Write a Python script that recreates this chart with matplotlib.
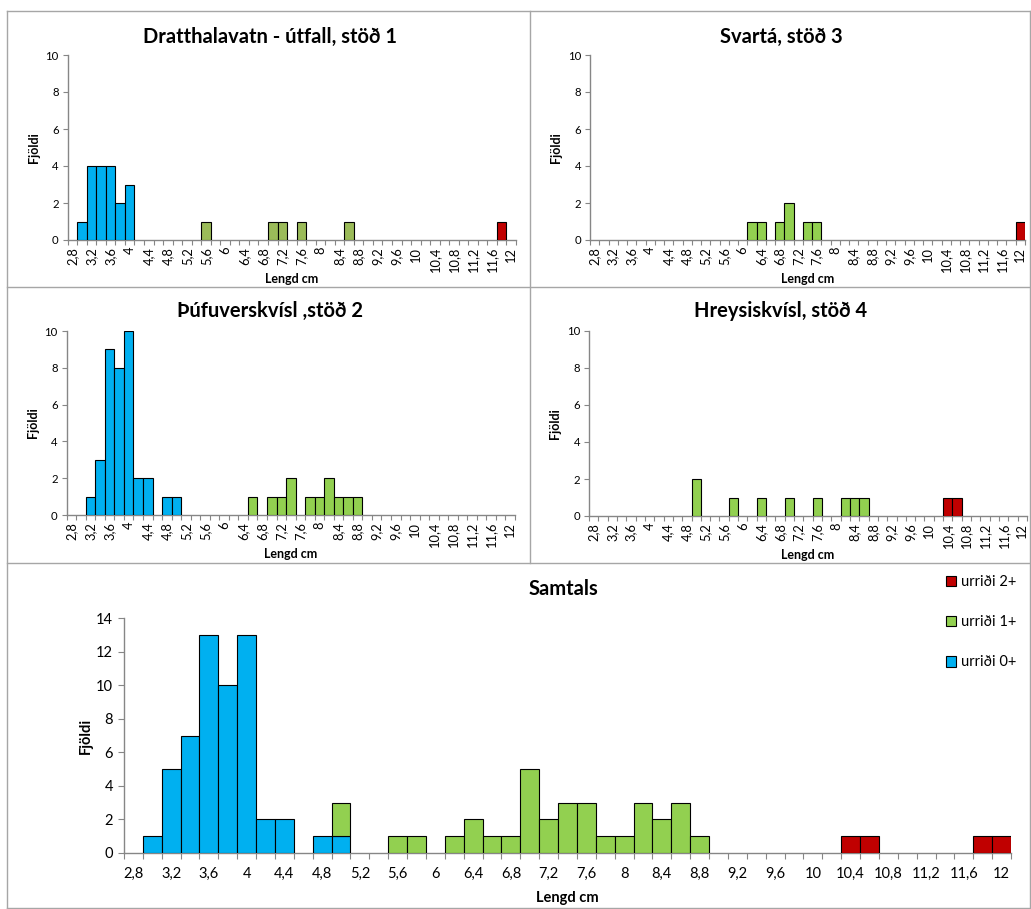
import matplotlib
matplotlib.use("Agg")
import matplotlib.pyplot as plt
from matplotlib.lines import Line2D
from matplotlib.patches import Patch
import numpy as np

plt.rcParams['font.family'] = ['Lato', 'DejaVu Sans']

# ---------------- data ----------------
cats = ["2,8", "3", "3,2", "3,4", "3,6", "3,8", "4", "4,2", "4,4", "4,6", "4,8", "5",
        "5,2", "5,4", "5,6", "5,8", "6", "6,2", "6,4", "6,6", "6,8", "7", "7,2", "7,4",
        "7,6", "7,8", "8", "8,2", "8,4", "8,6", "8,8", "9", "9,2", "9,4", "9,6", "9,8",
        "10", "10,2", "10,4", "10,6", "10,8", "11", "11,2", "11,4", "11,6", "11,8", "12"]

series_names = ["urriði 0+", "urriði 1+", "urriði 2+"]

# counts per length class (cm), per station and age group
st1_age0 = {"3": 1, "3,2": 4, "3,4": 4, "3,6": 4, "3,8": 2, "4": 3}
st1_age1 = {"5,6": 1, "7": 1, "7,2": 1, "7,6": 1, "8,6": 1}
st1_age2 = {"11,8": 1}

st3_age0 = {}
st3_age1 = {"6,2": 1, "6,4": 1, "6,8": 1, "7": 2, "7,4": 1, "7,6": 1}
st3_age2 = {"12": 1}

st2_age0 = {"3,2": 1, "3,4": 3, "3,6": 9, "3,8": 8, "4": 10, "4,2": 2, "4,4": 2,
            "4,8": 1, "5": 1}
st2_age1 = {"6,6": 1, "7": 1, "7,2": 1, "7,4": 2, "7,8": 1, "8": 1, "8,2": 2,
            "8,4": 1, "8,6": 1, "8,8": 1}
st2_age2 = {}

st4_age0 = {}
st4_age1 = {"5": 2, "5,8": 1, "6,4": 1, "7": 1, "7,6": 1, "8,2": 1, "8,4": 1, "8,6": 1}
st4_age2 = {"10,4": 1, "10,6": 1}

titles = ["Dratthalavatn - útfall, stöð 1", "Svartá, stöð 3",
          "Þúfuverskvísl ,stöð 2", "Hreysiskvísl, stöð 4", "Samtals"]

col_blue = "#00B0F0"
col_green = "#92D050"
col_green_st1 = "#9BBB59"
col_red = "#C00000"


def full(d):
    return np.array([d.get(c, 0) for c in cats], dtype=float)


stations = [
    [full(st1_age0), full(st1_age1), full(st1_age2)],
    [full(st3_age0), full(st3_age1), full(st3_age2)],
    [full(st2_age0), full(st2_age1), full(st2_age2)],
    [full(st4_age0), full(st4_age1), full(st4_age2)],
]
total = [sum(s[k] for s in stations) for k in range(3)]

# ---------------- figure ----------------
W, H = 1031, 909
fig = plt.figure(figsize=(W / 100, H / 100), dpi=100)
AX_COL = "#868686"


def ax_at(x0, x1, y0, y1):
    return fig.add_axes([x0 / W, 1 - y1 / H, (x1 - x0) / W, (y1 - y0) / H])


def draw(ax, series, colors, ymax, small):
    x = np.arange(len(cats))
    bottom = np.zeros(len(cats))
    for vals, col in zip(series, colors):
        m = vals > 0
        if m.any():
            ax.bar(x[m], vals[m], width=1.0, bottom=bottom[m], color=col,
                   edgecolor="black", linewidth=0.8, zorder=3)
        bottom += vals
    ax.set_xlim(-0.5, len(cats) - 0.5)
    ax.set_ylim(0, ymax)
    ax.set_yticks(np.arange(0, ymax + 1, 2))
    ax.set_xticks(np.arange(-0.5, len(cats)), minor=True)
    ax.set_xticks(x[::2])
    ax.set_xticklabels(cats[::2], rotation=90 if small else 0)
    for s in ["top", "right"]:
        ax.spines[s].set_visible(False)
    for s in ["left", "bottom"]:
        ax.spines[s].set_color(AX_COL)
        ax.spines[s].set_linewidth(1.0)
    fsx = 9.3 if small else 10.5
    fsy = 8.2 if small else 10.5
    ax.tick_params(axis="x", which="major", length=0, labelsize=fsx, pad=5 if small else 10,
                   colors="#000000")
    ax.tick_params(axis="x", which="minor", length=3.5 if small else 4, color=AX_COL, width=0.8)
    ax.tick_params(axis="y", which="major", length=3.5 if small else 4, color=AX_COL, width=0.8,
                   labelsize=fsy, pad=3 if small else 4)
    ax.patch.set_alpha(0)


# panel boxes (pixel coords)
boxes = [
    (67.7, 516, 55, 240),
    (590, 1025, 55, 240),
    (66.7, 515, 331, 515),
    (589, 1027, 331, 516),
]
title_pos = [(270, 37), (781, 37), (270, 311), (781, 311)]

for i, (b, series) in enumerate(zip(boxes, stations)):
    ax = ax_at(*b)
    colors = [col_blue, col_green_st1 if i == 0 else col_green, col_red]
    draw(ax, series, colors, 10, True)
    fig.text(title_pos[i][0] / W, 1 - title_pos[i][1] / H, titles[i], ha="center",
             va="center", fontsize=14.5, fontweight="bold")
    xc = (b[0] + b[1]) / 2
    fig.text(xc / W, 1 - (b[3] + 39) / H, "Lengd cm", ha="center", va="center",
             fontsize=9, fontweight="bold")
    fig.text((b[0] - 34) / W, 1 - ((b[2] + b[3]) / 2) / H, "Fjöldi", ha="center",
             va="center", rotation=90, fontsize=9, fontweight="bold")

# bottom total panel
axb = ax_at(124, 1011, 618, 853)
draw(axb, total, [col_blue, col_green, col_red], 14, False)
fig.text(563 / W, 1 - 589 / H, titles[4], ha="center", va="center", fontsize=14.5,
         fontweight="bold")
fig.text(567 / W, 1 - 898 / H, "Lengd cm", ha="center", va="center", fontsize=10.5,
         fontweight="bold")
fig.text(86 / W, 1 - 736 / H, "Fjöldi", ha="center", va="center", rotation=90,
         fontsize=10.5, fontweight="bold")

handles = [Patch(facecolor=c, edgecolor="black", linewidth=0.8)
           for c in [col_red, col_green, col_blue]]
fig.legend(handles, series_names[::-1], loc="upper left",
           bbox_to_anchor=(946 / W, 1 - 575 / H), frameon=False, fontsize=10.5,
           handlelength=0.7, handleheight=0.7, handletextpad=0.3, labelspacing=1.8,
           borderaxespad=0, borderpad=0)

# chart-area borders
LC = "#A6A6A6"
def hline(y, x0, x1):
    fig.add_artist(Line2D([x0 / W, x1 / W], [1 - y / H, 1 - y / H], color=LC, lw=1.0,
                          transform=fig.transFigure))
def vline(x, y0, y1):
    fig.add_artist(Line2D([x / W, x / W], [1 - y0 / H, 1 - y1 / H], color=LC, lw=1.0,
                          transform=fig.transFigure))

hline(11, 7, 1030)
hline(287, 7, 1030)
hline(563, 7, 1030)
hline(908, 7, 1030)
vline(7, 11, 908)
vline(530, 11, 563)
vline(1030, 11, 908)

fig.savefig("out.png", dpi=100, facecolor="white")
